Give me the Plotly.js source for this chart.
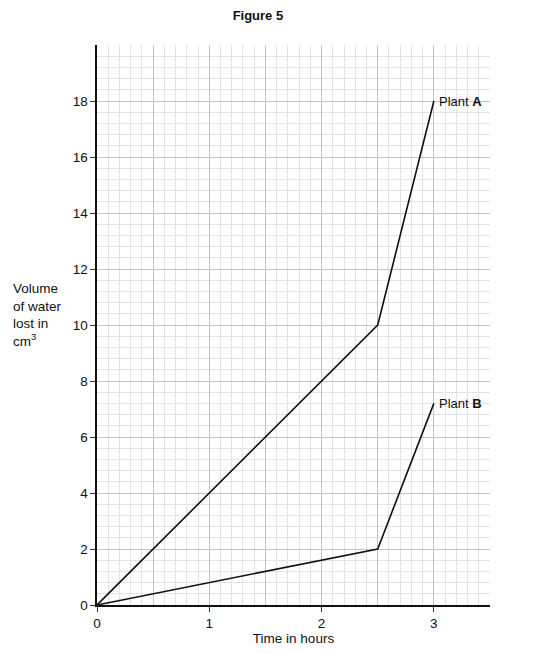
<!DOCTYPE html>
<html>
<head>
<meta charset="utf-8">
<script src="https://cdn.plot.ly/plotly-3.0.1.min.js"></script>
<style>html,body{margin:0;padding:0;background:#fff;}#chart{width:543px;height:653px;}</style>
</head>
<body>
<div id="chart"></div>
<script>
// Data
const timeHours = [0, 2.5, 3];
const plantA = [0, 10, 18];
const plantB = [0, 2, 7.2];
const seriesNames = ["Plant <b>A</b>", "Plant <b>B</b>"];
const xTickVals = [0, 1, 2, 3];
const yTickVals = [0, 2, 4, 6, 8, 10, 12, 14, 16, 18];

const font = "Liberation Sans, Arial, sans-serif";
const lineStyle = {color: "#111", width: 1.6};

const traces = [
  {x: timeHours, y: plantA, mode: "lines", line: lineStyle, xaxis: "x2", yaxis: "y", hoverinfo: "skip", showlegend: false},
  {x: timeHours, y: plantB, mode: "lines", line: lineStyle, xaxis: "x2", yaxis: "y", hoverinfo: "skip", showlegend: false}
];

const last = timeHours.length - 1;
const annotations = [
  {x: timeHours[last], y: plantA[last], xref: "x", yref: "y", text: seriesNames[0], showarrow: false,
   xanchor: "left", yanchor: "middle", xshift: 3, font: {family: font, size: 13, color: "#111"}},
  {x: timeHours[last], y: plantB[last], xref: "x", yref: "y", text: seriesNames[1], showarrow: false,
   xanchor: "left", yanchor: "middle", xshift: 3, font: {family: font, size: 13, color: "#111"}},
  {x: -0.218, y: 0.518, xref: "paper", yref: "paper", xanchor: "left", yanchor: "middle", align: "left",
   text: "Volume<br>of water<br>lost in<br>cm<sup>3</sup>", showarrow: false,
   font: {family: font, size: 13.5, color: "#111"}}
];

const layout = {
  width: 543, height: 653,
  margin: {l: 97, r: 53, t: 45, b: 48},
  paper_bgcolor: "#fff", plot_bgcolor: "#fff",
  title: {text: "<b>Figure 5</b>", x: 0.475, xanchor: "center", y: 0.977, yanchor: "middle",
          font: {family: font, size: 13, color: "#111"}},
  xaxis: {
    range: [0, 3.5], tickvals: xTickVals, ticks: "outside", ticklen: 5, tickcolor: "#333", tickwidth: 1,
    showgrid: true, gridcolor: "#c4c4c4", gridwidth: 1, zeroline: false,
    showline: true, linecolor: "#111", linewidth: 1.6,
    tickfont: {family: font, size: 13.5, color: "#111"},
    minor: {dtick: 0.1, tick0: 0, showgrid: true, gridcolor: "#e3e3e3", gridwidth: 1, ticks: ""},
    title: {text: "Time in hours", standoff: 1, font: {family: font, size: 13.5, color: "#111"}},
    fixedrange: true
  },
  xaxis2: {
    range: [0, 3.5], overlaying: "x", anchor: "y", side: "bottom", dtick: 0.5, tick0: 0,
    showticklabels: false, ticks: "", showgrid: true, gridcolor: "#c4c4c4", gridwidth: 1,
    zeroline: false, showline: false, fixedrange: true
  },
  yaxis: {
    range: [0, 20], tickvals: yTickVals, ticks: "outside", ticklen: 5, tickcolor: "#333", tickwidth: 1,
    showgrid: true, gridcolor: "#c4c4c4", gridwidth: 1, zeroline: false,
    showline: true, linecolor: "#111", linewidth: 1.6,
    tickfont: {family: font, size: 13.5, color: "#111"},
    minor: {dtick: 0.4, tick0: 0, showgrid: true, gridcolor: "#e3e3e3", gridwidth: 1, ticks: ""},
    fixedrange: true
  },
  annotations: annotations,
  showlegend: false
};

Plotly.newPlot("chart", traces, layout, {staticPlot: true, displayModeBar: false});
</script>
</body>
</html>
